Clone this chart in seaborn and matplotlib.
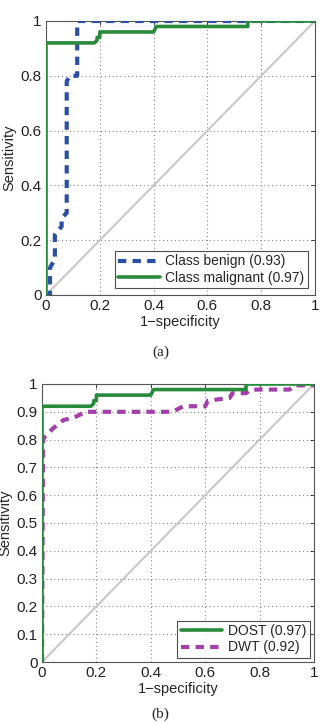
import numpy as np
import pandas as pd
import seaborn as sns
import matplotlib.pyplot as plt

# --- ROC points ---
# (a) benign vs malignant
benign_fpr = [0.0, 0.015, 0.015, 0.033, 0.033, 0.058, 0.058, 0.077, 0.077, 0.089, 0.116, 0.116, 1.0]
benign_tpr = [0.0, 0.0, 0.10, 0.13, 0.22, 0.25, 0.28, 0.30, 0.78, 0.80, 0.80, 1.0, 1.0]

malig_fpr = [0.0, 0.0, 0.18, 0.19, 0.19, 0.20, 0.20, 0.40, 0.41, 0.75, 0.75, 1.0]
malig_tpr = [0.0, 0.92, 0.92, 0.93, 0.94, 0.94, 0.96, 0.96, 0.98, 0.98, 1.0, 1.0]

# (b) DOST vs DWT
dost_fpr = malig_fpr
dost_tpr = malig_tpr

dwt_fpr = [0.0, 0.004, 0.01, 0.04, 0.078, 0.12, 0.16, 0.48, 0.52, 0.60, 0.61, 0.69, 0.70, 0.75, 0.77, 0.91, 0.93, 1.0]
dwt_tpr = [0.0, 0.80, 0.81, 0.84, 0.87, 0.88, 0.90, 0.90, 0.92, 0.92, 0.94, 0.95, 0.967, 0.967, 0.98, 0.98, 0.995, 0.995]

labels_a = ["Class benign (0.93)", "Class malignant (0.97)"]
labels_b = ["DOST (0.97)", "DWT (0.92)"]

blue = "#2b4fa3"
green = "#2a8a3c"
purple = "#a23fa8"

sns.set_theme(style="white")
plt.rcParams["font.family"] = ["Liberation Sans", "DejaVu Sans"]

fig = plt.figure(figsize=(3.21, 7.23), dpi=100)
ax_a = fig.add_axes([46 / 321, 1 - 295 / 723, 269 / 321, 274 / 723])
ax_b = fig.add_axes([42 / 321, 1 - 662 / 723, 272 / 321, 278 / 723])


def style_axes(ax, yticks):
    ax.plot([0, 1], [0, 1], color="#c8c8c8", lw=1.5, zorder=1)
    ax.set_xlim(0, 1)
    ax.set_ylim(0, 1)
    ax.set_xticks([0, 0.2, 0.4, 0.6, 0.8, 1])
    ax.set_xticklabels(["0", "0.2", "0.4", "0.6", "0.8", "1"])
    ax.set_yticks(yticks)
    ax.set_yticklabels(["0" if t == 0 else ("1" if t == 1 else f"{t:g}") for t in yticks])
    ax.set_axisbelow(True)
    ax.grid(True, linestyle=(0, (1, 2.5)), color="#8a8a8a", lw=0.8, zorder=0)
    ax.tick_params(direction="in", length=3, width=0.6, labelsize=11, colors="#222222",
                   top=True, right=True, pad=3)
    for s in ax.spines.values():
        s.set_color("#555555")
        s.set_linewidth(0.8)


# --- (a) ---
style_axes(ax_a, [0, 0.2, 0.4, 0.6, 0.8, 1])
df_ben = pd.DataFrame({"fpr": benign_fpr, "tpr": benign_tpr})
df_mal = pd.DataFrame({"fpr": malig_fpr, "tpr": malig_tpr})
sns.lineplot(data=df_ben, x="fpr", y="tpr", sort=False, estimator=None, ax=ax_a,
             color=blue, lw=3, linestyle=(0, (2.0, 1.5)), label=labels_a[0], zorder=3)
sns.lineplot(data=df_mal, x="fpr", y="tpr", sort=False, estimator=None, ax=ax_a,
             color=green, lw=2.6, label=labels_a[1], zorder=4)
ax_a.set_xlabel("1\u2212specificity", fontsize=10.5, labelpad=1)
ax_a.set_ylabel("Sensitivity", fontsize=10.5, labelpad=3)
leg = ax_a.legend(loc="lower right", fontsize=10, frameon=True, fancybox=False,
                  edgecolor="#222222", handlelength=3.0, borderpad=0.25, labelspacing=0.15,
                  handletextpad=0.4, borderaxespad=0.5)
leg.get_frame().set_linewidth(0.8)

# --- (b) ---
style_axes(ax_b, [0, 0.1, 0.2, 0.3, 0.4, 0.5, 0.6, 0.7, 0.8, 0.9, 1])
df_dost = pd.DataFrame({"fpr": dost_fpr, "tpr": dost_tpr})
df_dwt = pd.DataFrame({"fpr": dwt_fpr, "tpr": dwt_tpr})
sns.lineplot(data=df_dost, x="fpr", y="tpr", sort=False, estimator=None, ax=ax_b,
             color=green, lw=2.6, label=labels_b[0], zorder=4)
sns.lineplot(data=df_dwt, x="fpr", y="tpr", sort=False, estimator=None, ax=ax_b,
             color=purple, lw=3, linestyle=(0, (2.0, 1.5)), label=labels_b[1], zorder=3)
ax_b.set_xlabel("1\u2212specificity", fontsize=10.5, labelpad=1)
ax_b.set_ylabel("Sensitivity", fontsize=10.5, labelpad=3)
leg = ax_b.legend(loc="lower right", fontsize=10, frameon=True, fancybox=False,
                  edgecolor="#222222", handlelength=3.0, borderpad=0.25, labelspacing=0.15,
                  handletextpad=0.4, borderaxespad=0.3)
leg.get_frame().set_linewidth(0.8)

# captions
fig.text(0.5, 1 - 352 / 723, "(a)", ha="center", va="center", fontsize=11,
         family=["Liberation Serif", "DejaVu Serif"])
fig.text(0.5, 1 - 714 / 723, "(b)", ha="center", va="center", fontsize=11,
         family=["Liberation Serif", "DejaVu Serif"])

fig.savefig("out.png", dpi=100)
